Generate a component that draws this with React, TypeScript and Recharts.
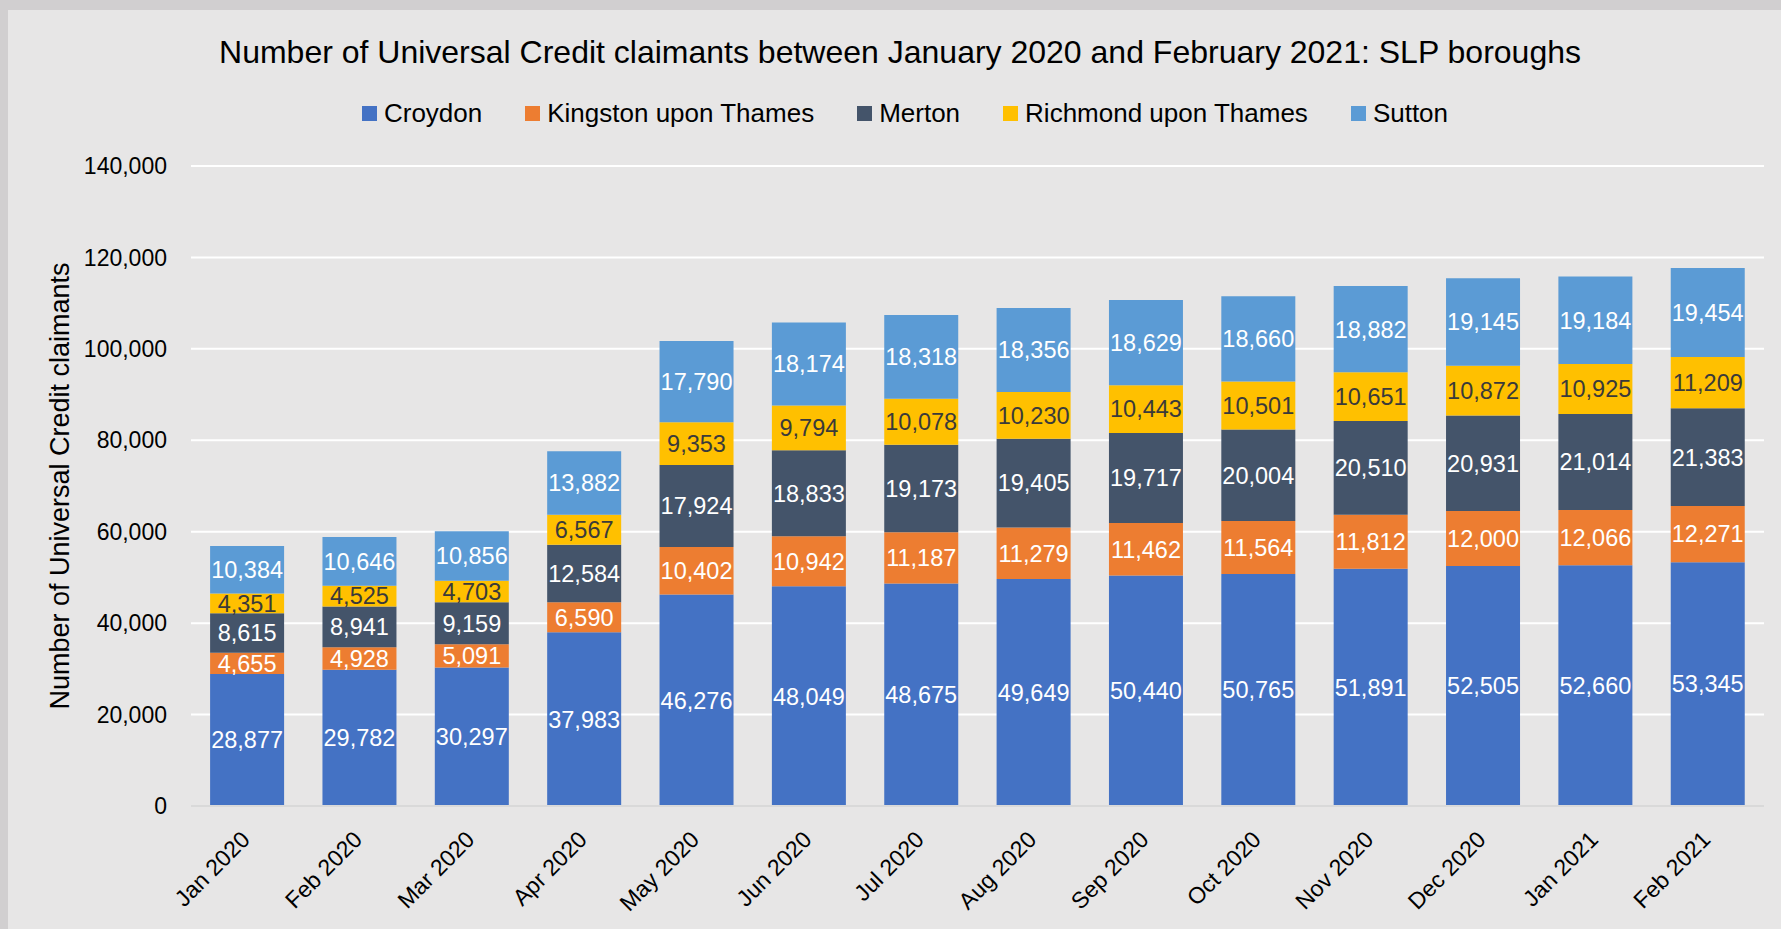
import React from 'react';
import { BarChart, Bar, XAxis, YAxis, CartesianGrid, LabelList } from 'recharts';

const months = [
  'Jan 2020', 'Feb 2020', 'Mar 2020', 'Apr 2020', 'May 2020', 'Jun 2020', 'Jul 2020',
  'Aug 2020', 'Sep 2020', 'Oct 2020', 'Nov 2020', 'Dec 2020', 'Jan 2021', 'Feb 2021',
];
const croydon = [28877, 29782, 30297, 37983, 46276, 48049, 48675, 49649, 50440, 50765, 51891, 52505, 52660, 53345];
const kingston = [4655, 4928, 5091, 6590, 10402, 10942, 11187, 11279, 11462, 11564, 11812, 12000, 12066, 12271];
const merton = [8615, 8941, 9159, 12584, 17924, 18833, 19173, 19405, 19717, 20004, 20510, 20931, 21014, 21383];
const richmond = [4351, 4525, 4703, 6567, 9353, 9794, 10078, 10230, 10443, 10501, 10651, 10872, 10925, 11209];
const sutton = [10384, 10646, 10856, 13882, 17790, 18174, 18318, 18356, 18629, 18660, 18882, 19145, 19184, 19454];
const yTicks = [0, 20000, 40000, 60000, 80000, 100000, 120000, 140000];

const TITLE = 'Number of Universal Credit claimants between January 2020 and February 2021: SLP boroughs';
const Y_TITLE = 'Number of Universal Credit claimants';

const series = [
  { key: 'croydon', name: 'Croydon', color: '#4472C4', label: '#FFFFFF', values: croydon },
  { key: 'kingston', name: 'Kingston upon Thames', color: '#ED7D31', label: '#FFFFFF', values: kingston },
  { key: 'merton', name: 'Merton', color: '#44546A', label: '#FFFFFF', values: merton },
  { key: 'richmond', name: 'Richmond upon Thames', color: '#FFC000', label: '#3A3A3A', values: richmond },
  { key: 'sutton', name: 'Sutton', color: '#5B9BD5', label: '#FFFFFF', values: sutton },
];

const data = months.map((m, i) => {
  const row: Record<string, string | number> = { month: m };
  series.forEach((s) => {
    row[s.key] = s.values[i];
  });
  return row;
});

const FONT = '"Liberation Sans", Arial, Helvetica, sans-serif';
const fmt = (v: number) => v.toLocaleString('en-US');

const XTick = (props: any) => {
  const { x, y, payload } = props;
  const ax = x + 4;
  const ay = y + 35;
  return (
    <text
      x={ax}
      y={ay}
      transform={`rotate(-45 ${ax} ${ay})`}
      textAnchor="end"
      fontSize={23}
      fill="#000000"
      fontFamily={FONT}
    >
      {payload.value}
    </text>
  );
};

const YTitle = (props: any) => {
  const vb = props.viewBox || { x: 71, y: 166, width: 120, height: 640 };
  const cx = vb.x - 11;
  const cy = vb.y + vb.height / 2;
  return (
    <text
      x={cx}
      y={cy}
      transform={`rotate(-90 ${cx} ${cy})`}
      textAnchor="middle"
      dominantBaseline="central"
      fontSize={27}
      fill="#000000"
      fontFamily={FONT}
    >
      {Y_TITLE}
    </text>
  );
};

export default function App() {
  return (
    <div
      style={{
        position: 'absolute',
        left: 0,
        top: 0,
        width: 1781,
        height: 929,
        overflow: 'hidden',
        background: '#E7E6E6',
        fontFamily: FONT,
      }}
    >
      <div style={{ position: 'absolute', left: 0, top: 0, width: 1781, height: 10, background: '#D1CFD0' }} />
      <div style={{ position: 'absolute', left: 0, top: 0, width: 8, height: 929, background: '#D1CFD0' }} />
      <div
        style={{
          position: 'absolute',
          left: 19,
          top: 33,
          width: 1762,
          lineHeight: '38px',
          fontSize: 32,
          textAlign: 'center',
          color: '#000000',
          whiteSpace: 'nowrap',
        }}
      >
        {TITLE}
      </div>
      <div
        style={{
          position: 'absolute',
          left: 29,
          top: 96,
          width: 1752,
          height: 34,
          display: 'flex',
          justifyContent: 'center',
          alignItems: 'center',
          fontSize: 26,
          color: '#000000',
          whiteSpace: 'nowrap',
        }}
      >
        {series.map((s, i) => (
          <div
            key={s.key}
            style={{ display: 'flex', alignItems: 'center', marginLeft: i === 0 ? 0 : 43 }}
          >
            <div style={{ width: 15, height: 15, background: s.color, marginRight: 7 }} />
            <span>{s.name}</span>
          </div>
        ))}
      </div>
      <div style={{ position: 'absolute', left: 0, top: 0 }}>
        <BarChart
          width={1781}
          height={929}
          data={data}
          margin={{ top: 166, right: 17, bottom: 23, left: 71 }}
          barCategoryGap="17%"
          style={{ fontFamily: FONT }}
        >
          <CartesianGrid vertical={false} stroke="#FFFFFF" strokeWidth={2} />
          <XAxis
            dataKey="month"
            height={100}
            interval={0}
            tickLine={false}
            tickSize={0}
            tickMargin={0}
            axisLine={{ stroke: '#D9D9D9', strokeWidth: 2 }}
            tick={<XTick />}
          />
          <YAxis
            width={120}
            domain={[0, 140000]}
            ticks={yTicks}
            interval={0}
            axisLine={false}
            tickLine={false}
            tickSize={0}
            tickMargin={24}
            tickFormatter={(v: number) => fmt(v)}
            tick={{ fontSize: 23, fill: '#000000', fontFamily: FONT }}
            label={<YTitle />}
          />
          {series.map((s) => (
            <Bar
              key={s.key}
              dataKey={s.key}
              name={s.name}
              stackId="total"
              fill={s.color}
              isAnimationActive={false}
            >
              <LabelList
                dataKey={s.key}
                position="center"
                fill={s.label}
                fontSize={23.5}
                fontFamily={FONT}
                formatter={(v: any) => fmt(Number(v))}
              />
            </Bar>
          ))}
        </BarChart>
      </div>
    </div>
  );
}
